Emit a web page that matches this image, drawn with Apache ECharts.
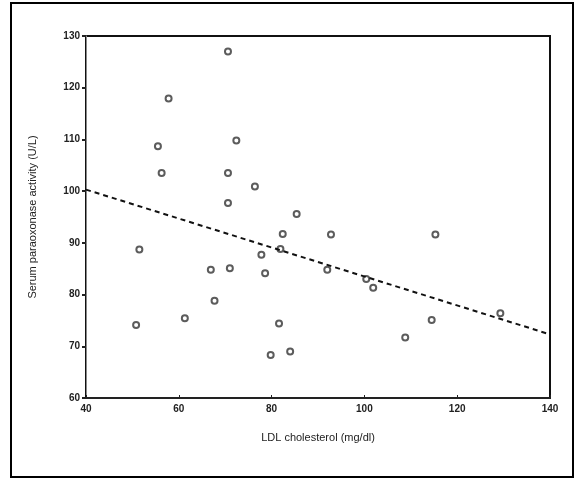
<!DOCTYPE html>
<html lang="en">
<head>
    <meta charset="UTF-8">
    <title>LDL scatter</title>
    <script type="text/javascript" src="https://cdn.jsdelivr.net/npm/echarts@6/dist/echarts.min.js"></script>
    <style>
        html, body { margin: 0; padding: 0; background: #fff; }
        #main { width: 577px; height: 481px; }
    </style>
</head>
<body>
<div id="main"></div>
<script>
    // data
    var ldl = [70.6, 57.8, 55.5, 72.4, 56.3, 70.6, 76.4, 70.6, 85.4, 82.4, 92.8, 115.3, 51.5, 77.8, 81.9,
        66.9, 71.0, 78.6, 92.0, 100.4, 101.9, 67.7, 50.8, 61.3, 81.6, 114.5, 108.8, 79.8, 84.0, 129.3];
    var yVals = [127, 117.9, 108.7, 109.8, 103.5, 103.5, 100.9, 97.7, 95.6, 91.7, 91.6, 91.6, 88.7, 87.7, 88.8,
        84.8, 85.1, 84.1, 84.8, 83.0, 81.3, 78.8, 74.1, 75.4, 74.4, 75.1, 71.7, 68.3, 69.0, 76.4];
    var trendX = [40, 140];
    var trendY = [100.3, 72.3];
    var xTicks = [40, 60, 80, 100, 120, 140];
    var yTicks = [60, 70, 80, 90, 100, 110, 120, 130];

    var points = [];
    for (var i = 0; i < ldl.length; i++) {
        points.push([ldl[i], yVals[i]]);
    }
    var trend = [];
    for (var j = 0; j < trendX.length; j++) {
        trend.push([trendX[j], trendY[j]]);
    }

    var myChart = echarts.init(document.getElementById('main'));
    var option = {
        animation: false,
        graphic: [{
            type: 'rect',
            shape: { x: 11, y: 3, width: 562, height: 474 },
            style: { fill: 'none', stroke: '#000', lineWidth: 2 }
        }],
        grid: {
            left: 86, right: 27, top: 36, bottom: 83,
            show: true,
            borderColor: '#111',
            borderWidth: 2
        },
        xAxis: {
            type: 'value',
            min: 40, max: 140, interval: 20,
            name: 'LDL cholesterol (mg/dl)',
            nameLocation: 'middle',
            nameGap: 34,
            nameTextStyle: { color: '#222', fontSize: 11, fontFamily: 'Liberation Sans' },
            axisLine: { lineStyle: { color: '#222', width: 2 } },
            axisTick: { show: true, inside: true, length: 3, lineStyle: { color: '#222' } },
            axisLabel: {
                color: '#222', fontSize: 10, fontWeight: 'bold', fontFamily: 'Liberation Sans', margin: 6,
                formatter: function (v) { return xTicks.indexOf(v) >= 0 ? String(v) : ''; }
            },
            splitLine: { show: false }
        },
        yAxis: {
            type: 'value',
            min: 60, max: 130, interval: 10,
            name: 'Serum paraoxonase activity (U/L)',
            nameLocation: 'middle',
            nameGap: 48,
            nameTextStyle: { color: '#222', fontSize: 11, fontFamily: 'Liberation Sans' },
            axisLine: { lineStyle: { color: '#888', width: 1 } },
            axisTick: { show: true, length: 4, lineStyle: { color: '#222', width: 2 } },
            axisLabel: {
                color: '#222', fontSize: 10, fontWeight: 'bold', fontFamily: 'Liberation Sans', margin: 6,
                formatter: function (v) { return yTicks.indexOf(v) >= 0 ? String(v) : ''; }
            },
            splitLine: { show: false }
        },
        series: [{
            name: 'points',
            type: 'scatter',
            data: points,
            symbol: 'emptyCircle',
            symbolSize: 6,
            itemStyle: { color: '#333', borderWidth: 1.5 }
        }, {
            name: 'trend',
            type: 'line',
            data: trend,
            symbol: 'none',
            lineStyle: { color: '#111', width: 2, type: [5, 4] }
        }]
    };
    myChart.setOption(option);
</script>
</body>
</html>
